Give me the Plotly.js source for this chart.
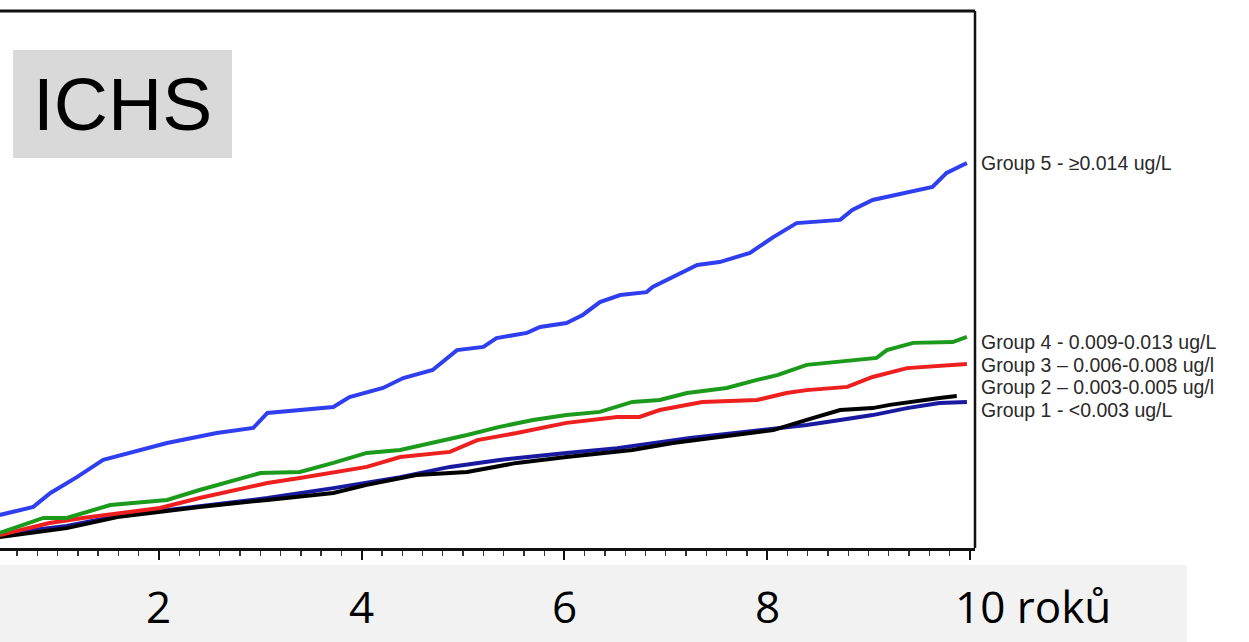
<!DOCTYPE html>
<html>
<head>
<meta charset="utf-8">
<script src="https://cdn.plot.ly/plotly-3.0.1.min.js"></script>
<style>html,body{margin:0;padding:0;background:#fff;}#chart{width:1249px;height:642px;}</style>
</head>
<body>
<div id="chart"></div>
<script>
// ---- data (years, cumulative incidence in arbitrary % units) ----
const groupNames = [
  "Group 5 - \u22650.014 ug/L",
  "Group 4 - 0.009-0.013 ug/L",
  "Group 3 \u2013 0.006-0.008 ug/l",
  "Group 2 \u2013 0.003-0.005 ug/l",
  "Group 1 - <0.003 ug/L"
];
const g5x = [0.43,0.76,0.93,1.19,1.45,1.74,2.08,2.57,2.93,3.07,3.39,3.72,3.88,4.21,4.41,4.70,4.94,5.20,5.33,5.63,5.76,6.02,6.18,6.35,6.55,6.81,6.87,7.07,7.31,7.53,7.83,8.06,8.29,8.72,8.84,9.04,9.34,9.63,9.77,9.97];
const g5y = [1.23,1.53,2.05,2.64,3.28,3.58,3.91,4.28,4.47,5.03,5.14,5.25,5.62,5.96,6.33,6.63,7.37,7.49,7.82,8.01,8.23,8.38,8.68,9.16,9.42,9.53,9.72,10.09,10.54,10.65,10.99,11.58,12.10,12.22,12.59,12.96,13.22,13.45,13.97,14.34];
const g4x = [0.43,0.86,1.09,1.52,2.08,2.40,3.00,3.39,3.72,4.05,4.38,4.70,5.04,5.36,5.69,6.02,6.35,6.67,6.94,7.21,7.60,7.90,8.10,8.39,8.85,9.08,9.18,9.44,9.83,9.97];
const g4y = [0.56,1.12,1.12,1.60,1.79,2.16,2.79,2.83,3.17,3.54,3.65,3.91,4.21,4.51,4.77,4.95,5.07,5.44,5.51,5.77,5.96,6.26,6.44,6.82,7.00,7.08,7.37,7.64,7.67,7.86];
const g3x = [0.43,0.92,1.25,1.59,2.01,2.40,3.07,3.39,4.05,4.38,4.87,5.14,5.53,6.02,6.52,6.74,6.94,7.36,7.90,8.19,8.39,8.79,9.04,9.38,9.97];
const g3y = [0.48,0.93,1.12,1.30,1.49,1.86,2.42,2.61,3.02,3.39,3.58,4.02,4.28,4.66,4.88,4.88,5.14,5.44,5.51,5.77,5.88,6.00,6.37,6.70,6.85];
const g2x = [0.43,1.09,1.59,2.01,2.40,3.07,3.72,4.05,4.54,5.04,5.53,6.02,6.67,7.07,7.56,8.06,8.39,8.72,9.04,9.21,9.70,9.87];
const g2y = [0.41,0.74,1.15,1.34,1.53,1.79,2.05,2.35,2.72,2.83,3.17,3.39,3.65,3.91,4.13,4.39,4.77,5.14,5.21,5.33,5.59,5.66];
const g1x = [0.43,1.09,1.59,2.40,3.07,3.72,4.38,4.87,5.36,6.02,6.52,7.24,7.90,8.39,8.72,9.04,9.38,9.70,9.97];
const g1y = [0.52,0.82,1.19,1.56,1.86,2.23,2.64,3.02,3.28,3.54,3.72,4.10,4.39,4.58,4.77,4.95,5.21,5.40,5.44];
const tickVals = [2,4,6,8,10];
const tickText = ["2","4","6","8","10 rok\u016f"];
const panelLabel = "ICHS";

// ---- styles ----
const colors = ["#2f3ff0","#1c9a1c","#ee1f1f","#000000","#1a1aa0"];
const seriesX = [g5x,g4x,g3x,g2x,g1x];
const seriesY = [g5y,g4y,g3y,g2y,g1y];
const labelPy = [163,342,364.5,387,409.5];

const plotTop = 11, plotBottom = 548, plotRight = 975;
const plotH = plotBottom - plotTop;
const py2paper = p => (plotBottom - p) / plotH;
const px2paper = p => p / plotRight;

const drawOrder = [4,3,2,1,0];
const traces = drawOrder.map(i => ({
  x: seriesX[i], y: seriesY[i], type: "scatter", mode: "lines",
  name: groupNames[i], line: {color: colors[i], width: 4, shape: "linear"},
  hoverinfo: "skip"
}));

const annotations = [];
groupNames.forEach((n, i) => {
  annotations.push({
    text: n, xref: "paper", yref: "paper", x: px2paper(980), y: py2paper(labelPy[i]),
    xanchor: "left", yanchor: "middle", showarrow: false, borderpad: 0,
    font: {family: "Liberation Sans", size: 19.5, color: "#2a2a2a"}
  });
});
tickVals.forEach((v, i) => {
  const last = i === tickVals.length - 1;
  annotations.push({
    text: tickText[i], xref: "x", yref: "paper", x: v, y: py2paper(606),
    xanchor: last ? "left" : "center", xshift: last ? -17 : 0, yanchor: "middle", showarrow: false,
    font: {family: "Open Sans", size: 44, color: "#000"}
  });
});
annotations.push({
  text: panelLabel, xref: "paper", yref: "paper", x: px2paper(122), y: py2paper(104),
  xanchor: "center", yanchor: "middle", showarrow: false,
  font: {family: "Liberation Sans", size: 75, color: "#000"}
});

const shapes = [
  {type: "rect", xref: "paper", yref: "paper", x0: 0, x1: px2paper(1187), y0: py2paper(565), y1: py2paper(650),
   fillcolor: "#f2f2f2", line: {width: 0}, layer: "below"},
  {type: "rect", xref: "paper", yref: "paper", x0: px2paper(13), x1: px2paper(232), y0: py2paper(158), y1: py2paper(50),
   fillcolor: "#d9d9d9", line: {width: 0}, layer: "below"},
  {type: "line", xref: "paper", yref: "paper", x0: 0, x1: 1, y0: 1, y1: 1, line: {color: "#111", width: 3}},
  {type: "line", xref: "paper", yref: "paper", x0: 1, x1: 1, y0: 0, y1: 1, line: {color: "#111", width: 2.5}}
];

const layout = {
  width: 1249, height: 642,
  margin: {l: 0, r: 1249 - plotRight, t: plotTop, b: 642 - plotBottom, pad: 0},
  paper_bgcolor: "#ffffff", plot_bgcolor: "#ffffff",
  showlegend: false,
  xaxis: {
    range: [0.432, 10.05], showgrid: false, zeroline: false,
    showline: true, linecolor: "#111", linewidth: 3,
    tickmode: "array", tickvals: tickVals, ticks: "outside", ticklen: 9, tickwidth: 2, tickcolor: "#111",
    showticklabels: false,
    minor: {dtick: 0.2, tick0: 0, ticks: "outside", ticklen: 5, tickwidth: 1.3, tickcolor: "#333", showgrid: false}
  },
  yaxis: {range: [0, 20], visible: false, showgrid: false, zeroline: false},
  shapes: shapes,
  annotations: annotations
};

Plotly.newPlot("chart", traces, layout, {displayModeBar: false, staticPlot: true});
</script>
</body>
</html>
